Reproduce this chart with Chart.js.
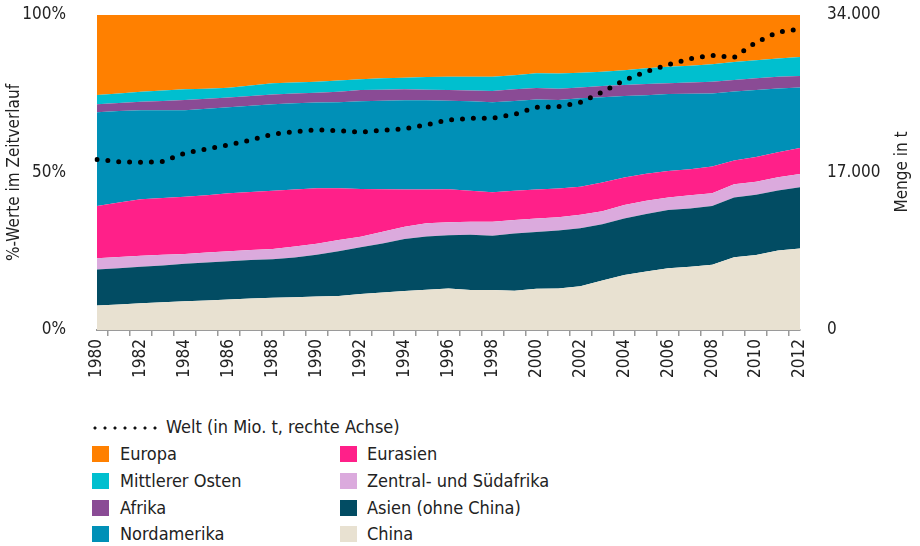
<!DOCTYPE html>
<html lang="de">
<head>
<meta charset="utf-8">
<script src="https://cdn.jsdelivr.net/npm/chart.js@4.4.1/dist/chart.umd.min.js"></script>
<style>
  body { margin: 0; background: #fff; }
  #wrap { position: relative; width: 920px; height: 546px; font-family: "Liberation Sans Narrow", "DejaVu Sans Condensed", sans-serif; color: #222; }
  #chartBox { position: absolute; left: 0; top: 0; width: 920px; height: 410px; }
  .legText { position: absolute; font-size: 18px; line-height: 20px; white-space: nowrap; }
  .swatch { position: absolute; width: 17px; height: 16px; }
  .dots { position: absolute; width: 70px; height: 6px;
          background: radial-gradient(circle, #111 1.3px, transparent 1.8px) 0 0 / 10px 6px repeat-x; }
</style>
</head>
<body>
<div id="wrap">
  <div id="chartBox"><canvas id="energyChart"></canvas></div>
  <div id="legend"></div>
</div>
<script>
const years = [];
for (let y = 1980; y <= 2012; y++) years.push(String(y));

// Anteile in % (von unten nach oben gestapelt)
const china = [7.8, 8.1, 8.5, 8.8, 9.1, 9.4, 9.7, 10.0, 10.2, 10.4, 10.6, 10.8, 11.4, 11.9, 12.4, 12.8, 13.2, 12.7, 12.7, 12.5, 13.1, 13.2, 13.9, 15.7, 17.5, 18.6, 19.6, 20.1, 20.7, 23.1, 23.8, 25.2, 25.9];
const asien = [11.4, 11.5, 11.6, 11.7, 11.9, 12.0, 12.1, 12.2, 12.3, 12.6, 13.3, 14.2, 14.9, 15.6, 16.5, 16.9, 16.9, 17.5, 17.2, 18.1, 18.0, 18.4, 18.4, 17.9, 17.9, 18.2, 18.5, 18.5, 18.7, 19.0, 19.1, 19.1, 19.4];
const zentralSued = [3.6, 3.6, 3.5, 3.4, 3.1, 3.2, 3.2, 3.2, 3.2, 3.5, 3.5, 3.6, 3.3, 3.7, 3.9, 4.2, 4.1, 4.2, 4.5, 4.3, 4.3, 4.2, 4.3, 4.1, 4.3, 4.2, 4.0, 4.2, 4.0, 4.2, 4.2, 4.2, 4.2];
const eurasien = [16.6, 17.3, 17.9, 18.0, 18.2, 18.2, 18.4, 18.4, 18.5, 18.1, 17.6, 16.4, 15.2, 13.5, 11.8, 10.7, 10.5, 9.8, 9.3, 9.3, 9.2, 9.1, 8.9, 9.1, 8.7, 8.6, 8.4, 8.2, 8.5, 7.5, 7.8, 7.9, 8.3];
const nordamerika = [29.7, 29.0, 28.3, 27.9, 27.5, 27.4, 27.3, 27.4, 27.5, 27.4, 27.2, 27.3, 27.8, 28.1, 28.3, 28.3, 28.1, 28.4, 28.6, 28.5, 28.6, 28.1, 28.1, 27.1, 25.9, 24.9, 24.4, 24.0, 23.2, 21.9, 21.3, 20.3, 19.2];
const afrika = [2.6, 2.6, 2.7, 2.9, 3.2, 3.2, 3.1, 3.1, 3.1, 3.1, 3.1, 3.3, 3.6, 3.5, 3.5, 3.4, 3.4, 3.4, 3.6, 3.7, 3.6, 3.6, 3.4, 3.6, 3.5, 3.6, 3.4, 3.6, 3.7, 3.7, 3.7, 3.7, 3.6];
const mittlererOsten = [2.9, 3.0, 3.1, 3.3, 3.4, 3.2, 3.1, 3.3, 3.5, 3.5, 3.5, 3.6, 3.4, 3.6, 3.7, 4.0, 4.2, 4.4, 4.5, 4.5, 4.7, 4.8, 4.7, 4.5, 4.7, 5.0, 5.3, 5.3, 5.6, 5.7, 5.7, 5.8, 6.1];
const europa = [25.4, 24.9, 24.4, 24.0, 23.6, 23.4, 23.1, 22.4, 21.7, 21.4, 21.2, 20.8, 20.4, 20.1, 19.9, 19.7, 19.6, 19.6, 19.6, 19.1, 18.5, 18.6, 18.3, 18.0, 17.5, 16.9, 16.4, 16.1, 15.6, 14.9, 14.4, 13.8, 13.3];

// Welt, rechte Achse
const welt = [18400, 18170, 18100, 18180, 19100, 19540, 19970, 20510, 21150, 21400, 21620, 21510, 21370, 21550, 21730, 22160, 22670, 22850, 22850, 23280, 24030, 24100, 24570, 25690, 26950, 27880, 28640, 29290, 29650, 29430, 31050, 32160, 32490];

const yTicksLeft = [0, 50, 100];
const yTicksRight = [0, 17000, 34000];

const areaSeries = [
    { label: "China", data: china, color: "#E8E1D1" },
    { label: "Asien (ohne China)", data: asien, color: "#024C63" },
    { label: "Zentral- und Südafrika", data: zentralSued, color: "#DBAADD" },
    { label: "Eurasien", data: eurasien, color: "#FF2089" },
    { label: "Nordamerika", data: nordamerika, color: "#0090B7" },
    { label: "Afrika", data: afrika, color: "#8A4B95" },
    { label: "Mittlerer Osten", data: mittlererOsten, color: "#00BFCF" },
    { label: "Europa", data: europa, color: "#FF8000" }
];

const fontFamily = '"Liberation Sans Narrow", "DejaVu Sans Condensed", sans-serif';
Chart.defaults.font.family = fontFamily;
Chart.defaults.font.size = 17;
Chart.defaults.color = "#222";

const datasets = areaSeries.map((s, i) => ({
    label: s.label,
    data: s.data,
    yAxisID: "y",
    backgroundColor: s.color,
    borderColor: "transparent",
    borderWidth: 0,
    pointRadius: 0,
    tension: 0,
    fill: i === 0 ? "origin" : "-1",
    order: 1
}));

datasets.push({
    label: "Welt (in Mio. t, rechte Achse)",
    data: welt,
    yAxisID: "y2",
    borderColor: "#000",
    borderWidth: 5,
    borderDash: [0, 10.9],
    borderCapStyle: "round",
    pointRadius: 0,
    tension: 0,
    fill: false,
    order: 0
});

const rightTitle = {
    id: "rightTitle",
    afterDraw(chart) {
        const c = chart.ctx;
        c.save();
        c.font = "17px " + fontFamily;
        c.fillStyle = "#222";
        c.textAlign = "center";
        c.textBaseline = "middle";
        c.translate(903, 172);
        c.rotate(-Math.PI / 2);
        c.fillText("Menge in t", 0, 0);
        c.restore();
    }
};

const ctx = document.getElementById("energyChart").getContext("2d");

new Chart(ctx, {
    type: "line",
    data: { labels: years, datasets: datasets },
    plugins: [rightTitle],
    options: {
        responsive: true,
        maintainAspectRatio: false,
        animation: false,
        layout: { padding: { top: 15, left: 0, right: 0, bottom: 0 } },
        plugins: {
            legend: { display: false },
            tooltip: { enabled: false }
        },
        scales: {
            x: {
                type: "category",
                offset: false,
                grid: { display: true, drawOnChartArea: false, drawTicks: true, tickLength: 6, offset: true, color: "#9a9a9a", lineWidth: 1.5 },
                border: { display: true, color: "#9a9a9a", width: 2 },
                ticks: {
                    autoSkip: false,
                    minRotation: 90,
                    maxRotation: 90,
                    padding: 3,
                    callback: function (value, index) {
                        const lbl = this.getLabelForValue(value);
                        return index % 2 === 0 ? lbl : "";
                    }
                },
                afterFit(scale) { scale.height = 80; scale.paddingLeft = 0; scale.paddingRight = 0; }
            },
            y: {
                position: "left",
                stacked: true,
                min: 0,
                max: 100,
                grid: { display: false, drawTicks: false },
                border: { display: false },
                afterBuildTicks(scale) { scale.ticks = yTicksLeft.map(v => ({ value: v })); },
                ticks: {
                    padding: 31,
                    callback: v => v + "%"
                },
                title: { display: true, text: "%-Werte im Zeitverlauf", padding: { top: 4, bottom: 0 } },
                afterFit(scale) { scale.width = 97; scale.paddingTop = 0; scale.paddingBottom = 0; }
            },
            y2: {
                position: "right",
                min: 0,
                max: 34000,
                grid: { display: false, drawTicks: false },
                border: { display: false },
                afterBuildTicks(scale) { scale.ticks = yTicksRight.map(v => ({ value: v })); },
                ticks: {
                    padding: 27,
                    callback: v => String(v).replace(/\B(?=(\d{3})+(?!\d))/g, ".")
                },
                afterFit(scale) { scale.width = 120; scale.paddingTop = 0; scale.paddingBottom = 0; }
            }
        }
    }
});

// Legende unter dem Diagramm
const legend = document.getElementById("legend");
const weltDots = document.createElement("div");
weltDots.className = "dots";
weltDots.style.left = "90px";
weltDots.style.top = "425px";
legend.appendChild(weltDots);
const weltText = document.createElement("div");
weltText.className = "legText";
weltText.style.left = "166px";
weltText.style.top = "417px";
weltText.textContent = "Welt (in Mio. t, rechte Achse)";
legend.appendChild(weltText);

const legendOrder = ["Europa", "Mittlerer Osten", "Afrika", "Nordamerika", "Eurasien", "Zentral- und Südafrika", "Asien (ohne China)", "China"];
const rowCenters = [454, 481, 508, 534];
legendOrder.forEach((name, i) => {
    const s = areaSeries.find(a => a.label === name);
    const col = Math.floor(i / 4);
    const row = i % 4;
    const sw = document.createElement("div");
    sw.className = "swatch";
    sw.style.background = s.color;
    sw.style.left = (col === 0 ? 92 : 340) + "px";
    sw.style.top = (rowCenters[row] - 8) + "px";
    legend.appendChild(sw);
    const t = document.createElement("div");
    t.className = "legText";
    t.style.left = (col === 0 ? 120 : 367) + "px";
    t.style.top = (rowCenters[row] - 10) + "px";
    t.textContent = name;
    legend.appendChild(t);
});
</script>
</body>
</html>
